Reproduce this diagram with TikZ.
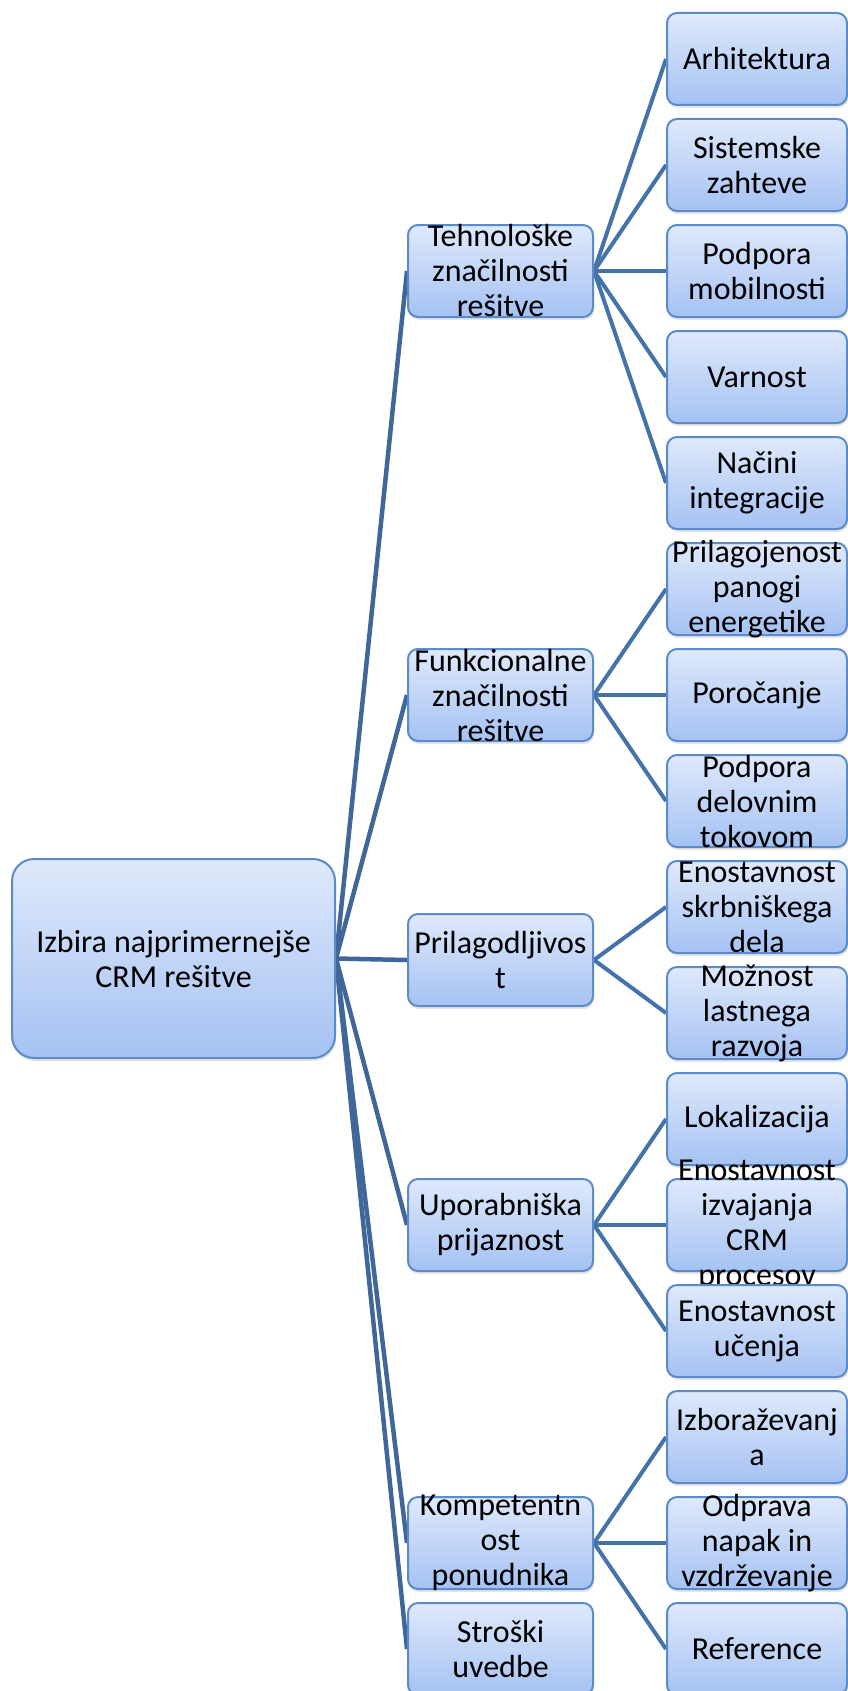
\documentclass[tikz,border=0pt]{standalone}
\usepackage{fontspec}
\setmainfont{Carlito}
\usetikzlibrary{shadows, backgrounds}

\definecolor{boxtop}{HTML}{DFE9FB}
\definecolor{boxbot}{HTML}{A5C2F3}
\definecolor{boxline}{HTML}{5B8BC8}
\definecolor{linkblue}{HTML}{4472AA}
\definecolor{rootlink}{HTML}{3F6799}

\tikzset{
  crmbox/.style={draw=boxline, line width=2pt, top color=boxtop, bottom color=boxbot,
    inner sep=0pt, drop shadow={opacity=0.2, shadow xshift=1pt, shadow yshift=-3pt}},
  rootbox/.style={crmbox, rounded corners=22pt, minimum width=323pt, minimum height=199pt},
  midbox/.style={crmbox, rounded corners=10pt, minimum width=185pt, minimum height=92pt},
  leafbox/.style={crmbox, rounded corners=10pt, minimum width=180pt, minimum height=92pt},
  txt/.style={align=center, inner sep=0pt, font=\fontsize{32}{35}\selectfont},
  link/.style={linkblue, line width=4pt},
  rootlinkstyle/.style={rootlink, line width=4.5pt}
}

\begin{document}
\begin{tikzpicture}[x=1pt, y=-1pt]
  \useasboundingbox (0,0) rectangle (847,1691);
  % row centre: 59 + 106*row
  \node[rootbox] (root) at (173.5,958.5) {};
  \node[txt] at (root) {Izbira najprimernejše\\CRM rešitve};

  \foreach \n/\r/\t in {teh/2/{Tehnološke\\značilnosti\\rešitve},
      fun/6/{Funkcionalne\\značilnosti\\rešitve},
      pri/8.5/{Prilagodljivos\\t},
      upo/11/{Uporabniška\\prijaznost},
      kom/14/{Kompetentn\\ost\\ponudnika},
      str/15/{Stroški\\uvedbe}}{
    \node[midbox] (\n) at (500.5,{59+106*\r}) {};
    \node[txt] at (\n) {\t};
  }

  \foreach \n/\r/\t in {arh/0/Arhitektura,
      sis/1/{Sistemske\\zahteve},
      mob/2/{Podpora\\mobilnosti},
      var/3/Varnost,
      int/4/{Načini\\integracije},
      pan/5/{Prilagojenost\\panogi\\energetike},
      por/6/Poročanje,
      tok/7/{Podpora\\delovnim\\tokovom},
      skr/8/{Enostavnost\\skrbniškega\\dela},
      raz/9/{Možnost\\lastnega\\razvoja},
      lok/10/Lokalizacija,
      izv/11/{Enostavnost\\izvajanja\\CRM\\procesov},
      uce/12/{Enostavnost\\učenja},
      izo/13/{Izboraževanj\\a},
      odp/14/{Odprava\\napak in\\vzdrževanje},
      ref/15/Reference}{
    \node[leafbox] (\n) at (757,{59+106*\r}) {};
    \node[txt] at (\n) {\t};
  }

  \begin{scope}[on background layer]
    \foreach \m in {teh,fun,pri,upo,kom,str}
      \draw[rootlinkstyle] (root.east) -- (\m.west);
    \foreach \m/\l in {teh/arh,teh/sis,teh/mob,teh/var,teh/int,
        fun/pan,fun/por,fun/tok,pri/skr,pri/raz,
        upo/lok,upo/izv,upo/uce,kom/izo,kom/odp,kom/ref}
      \draw[link] (\m.east) -- (\l.west);
  \end{scope}
\end{tikzpicture}
\end{document}
